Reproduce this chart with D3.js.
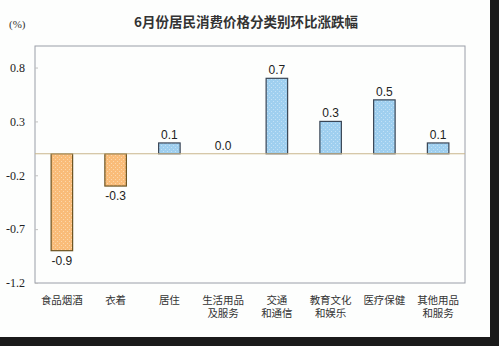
<!DOCTYPE html>
<html><head><meta charset="utf-8">
<script src="https://cdn.jsdelivr.net/npm/d3@7"></script>
<style>body{margin:0;background:#fff}svg{display:block}</style>
</head><body>
<svg id="c" width="499" height="346"></svg>
<script>
const categories = [["食品烟酒"],["衣着"],["居住"],["生活用品","及服务"],["交通","和通信"],["教育文化","和娱乐"],["医疗保健"],["其他用品","和服务"]];
const values = [-0.9,-0.3,0.1,0.0,0.7,0.3,0.5,0.1];
const yTicks = [-1.2,-0.7,-0.2,0.3,0.8];
const title = "6月份居民消费价格分类别环比涨跌幅";

const svg = d3.select("#c");
svg.append("rect").attr("x",0).attr("y",0).attr("width",499).attr("height",346).attr("fill","#1a1a1a");
svg.append("rect").attr("x",0).attr("y",0).attr("width",490).attr("height",337).attr("fill","#fdfefd");

const defs = svg.append("defs");
function dots(id, base, dot){
  const p = defs.append("pattern").attr("id",id).attr("patternUnits","userSpaceOnUse").attr("width",4).attr("height",4);
  p.append("rect").attr("width",4).attr("height",4).attr("fill",base);
  p.append("rect").attr("x",1).attr("y",1).attr("width",1).attr("height",1).attr("fill",dot);
  p.append("rect").attr("x",3).attr("y",3).attr("width",1).attr("height",1).attr("fill",dot);
}
dots("po","#F9BC79","#FCD7AA");
dots("pb","#9FCFEF","#C2E1F6");

const fmt = d => d.toFixed(1);
const L=35,R=465,T=46,B=283;
const x = d3.scaleBand().domain(d3.range(categories.length)).range([L,R]).paddingInner(0.6).paddingOuter(0.3);
const y = d3.scaleLinear().domain([-1.2,1.0]).range([B,T]);

svg.append("rect").attr("x",L).attr("y",T).attr("width",R-L).attr("height",B-T).attr("fill","none").attr("stroke","#9a9ea8").attr("stroke-width",1);

const ax = d3.axisLeft(y).tickValues(yTicks).tickFormat(fmt).tickSize(-3).tickPadding(10);
const g = svg.append("g").attr("transform",`translate(${L},0)`).call(ax);
g.select(".domain").remove();
g.selectAll(".tick line").attr("stroke","#c0c0c0");
g.selectAll(".tick text").attr("font-family","Liberation Serif, serif").attr("font-size",12).attr("fill","#222");

svg.selectAll(".bar").data(values).enter().append("rect")
  .attr("x",(d,i)=>x(i)).attr("width",x.bandwidth())
  .attr("y",d=>y(Math.max(0,d))).attr("height",d=>Math.abs(y(d)-y(0)))
  .attr("fill",d=>d<0?"url(#po)":"url(#pb)")
  .attr("stroke",d=>d<0?"#6b5220":"#3a4656").attr("stroke-width",1.2);

svg.append("line").attr("x1",L).attr("x2",R).attr("y1",y(0)).attr("y2",y(0)).attr("stroke","#c9b68c").attr("stroke-width",1.2);

svg.selectAll(".vl").data(values).enter().append("text")
  .attr("x",(d,i)=>x(i)+x.bandwidth()/2)
  .attr("y",d=>d<0?y(d)+14:y(d)-4)
  .attr("text-anchor","middle").attr("font-family","Liberation Sans, Arial, sans-serif").attr("font-size",12).attr("fill","#222")
  .text(fmt);

categories.forEach((c,i)=>{
  c.forEach((s,j)=>{
    svg.append("text").attr("x",x(i)+x.bandwidth()/2).attr("y",304+j*12.5)
      .attr("text-anchor","middle").attr("font-family","Liberation Sans, Noto Sans CJK SC, sans-serif").attr("font-size",10.5).attr("fill","#333").text(s);
  });
});

svg.append("text").attr("x",246).attr("y",27).attr("text-anchor","middle").attr("font-family","Noto Sans CJK SC, sans-serif").attr("font-size",13.5).attr("font-weight","bold").attr("fill","#333").text(title);
svg.append("text").attr("x",9).attr("y",28).attr("font-family","Liberation Serif, serif").attr("font-size",11).attr("fill","#333").text("(%)");
</script>
</body></html>
